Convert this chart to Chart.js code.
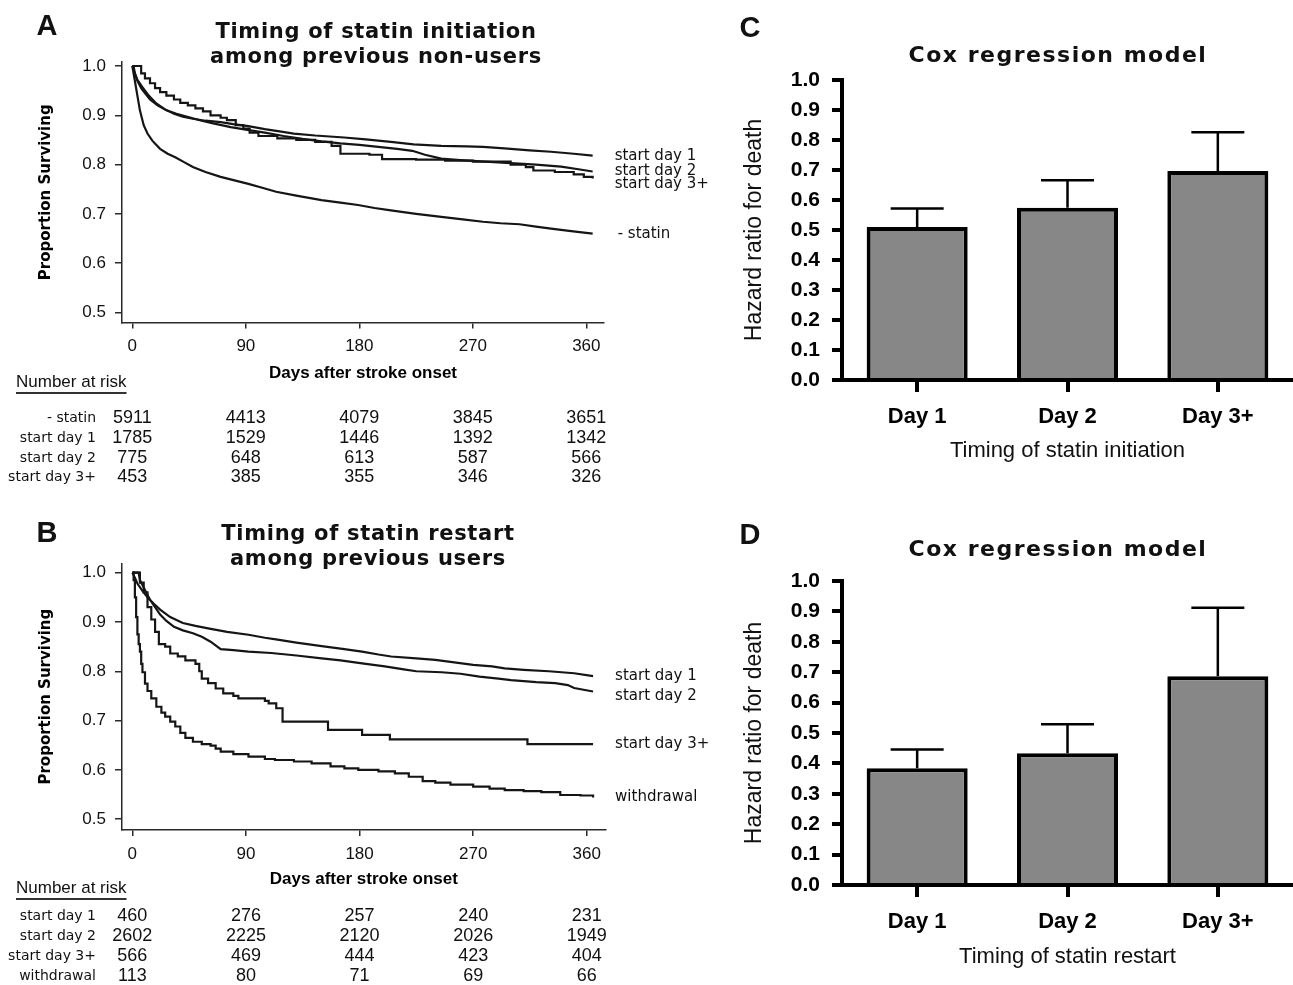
<!DOCTYPE html>
<html>
<head>
<meta charset="utf-8">
<script src="https://cdn.jsdelivr.net/npm/chart.js@4.4.0/dist/chart.umd.min.js"></script>
<style>
  html, body { margin: 0; padding: 0; background: #fff; }
  body { width: 1293px; height: 985px; position: relative; overflow: hidden; }
  canvas { position: absolute; display: block; }
</style>
</head>
<body>
<canvas id="panelA" width="720" height="500" style="left:0;top:0"></canvas>
<canvas id="panelB" width="720" height="485" style="left:0;top:500px"></canvas>
<canvas id="panelC" width="573" height="490" style="left:720px;top:0"></canvas>
<canvas id="panelD" width="573" height="490" style="left:720px;top:495px"></canvas>
<script>
// ---------------- DATA ----------------
const KM_TICKS = [0, 90, 180, 270, 360];
const SURV_TICKS = [0.5, 0.6, 0.7, 0.8, 0.9, 1.0];
const HR_TICKS = [0, 0.1, 0.2, 0.3, 0.4, 0.5, 0.6, 0.7, 0.8, 0.9, 1.0];

// Panel A: timing of statin initiation among previous non-users
const aDay1Days = [0, 2, 4, 8, 13, 19, 26, 33, 40, 48, 58, 70, 80, 92, 105, 118, 128, 145, 168, 185, 205, 223, 245, 265, 278, 295, 315, 332, 350, 365];
const aDay1Surv = [1.0, 0.985, 0.972, 0.957, 0.94, 0.924, 0.912, 0.903, 0.897, 0.893, 0.889, 0.886, 0.882, 0.878, 0.872, 0.867, 0.863, 0.859, 0.855, 0.851, 0.846, 0.841, 0.838, 0.837, 0.836, 0.833, 0.829, 0.826, 0.822, 0.818];
const aDay2Days = [0, 1, 2, 4, 7, 10, 14, 20, 27, 35, 45, 55, 65, 78, 90, 105, 120, 135, 150, 165, 180, 195, 210, 222, 232, 245, 260, 280, 300, 320, 340, 355, 365];
const aDay2Surv = [1.0, 1.0, 0.985, 0.97, 0.955, 0.945, 0.932, 0.92, 0.91, 0.903, 0.896, 0.889, 0.883, 0.876, 0.871, 0.865, 0.858, 0.852, 0.847, 0.843, 0.84, 0.836, 0.832, 0.828, 0.82, 0.812, 0.809, 0.806, 0.803, 0.8, 0.796, 0.79, 0.786];
const aDay3Days = [0, 5, 7, 10, 14, 18, 22, 27, 33, 38, 44, 50, 56, 62, 70, 75, 82, 88, 93, 100, 115, 130, 145, 158, 165, 188, 198, 225, 248, 270, 300, 312, 318, 335, 350, 358, 365];
const aDay3Surv = [1.0, 1.0, 0.985, 0.975, 0.965, 0.955, 0.947, 0.94, 0.932, 0.925, 0.92, 0.914, 0.908, 0.9, 0.895, 0.89, 0.88, 0.873, 0.865, 0.858, 0.853, 0.85, 0.846, 0.838, 0.822, 0.82, 0.811, 0.81, 0.808, 0.806, 0.8, 0.795, 0.788, 0.785, 0.78, 0.775, 0.772];
const aStatinDays = [0, 2, 4, 6, 9, 12, 16, 22, 28, 34, 41, 48, 58, 70, 81, 92, 103, 114, 130, 150, 165, 179, 192, 205, 225, 245, 262, 278, 292, 307, 320, 332, 348, 365];
const aStatinSurv = [1.0, 0.97, 0.94, 0.91, 0.88, 0.863, 0.848, 0.832, 0.822, 0.815, 0.805, 0.795, 0.785, 0.775, 0.768, 0.761, 0.753, 0.745, 0.737, 0.728, 0.723, 0.718, 0.712, 0.707, 0.7, 0.694, 0.689, 0.684, 0.681, 0.679, 0.674, 0.67, 0.665, 0.66];

const aRiskLabels = ['- statin', 'start day 1', 'start day 2', 'start day 3+'];
const aRiskStatin = [5911, 4413, 4079, 3845, 3651];
const aRiskDay1 = [1785, 1529, 1446, 1392, 1342];
const aRiskDay2 = [775, 648, 613, 587, 566];
const aRiskDay3 = [453, 385, 355, 346, 326];

// Panel B: timing of statin restart among previous users
const bDay1Days = [0, 2, 4, 8, 12, 17, 22, 30, 40, 50, 60, 75, 92, 105, 115, 130, 150, 165, 182, 195, 205, 225, 240, 255, 270, 285, 295, 310, 330, 350, 365];
const bDay1Surv = [1.0, 0.99, 0.978, 0.963, 0.95, 0.937, 0.925, 0.91, 0.898, 0.892, 0.887, 0.88, 0.874, 0.868, 0.864, 0.858, 0.851, 0.846, 0.84, 0.834, 0.83, 0.826, 0.823, 0.818, 0.813, 0.81, 0.806, 0.803, 0.8, 0.796, 0.79];
const bDay2Days = [0, 5, 6, 8, 11, 14, 18, 22, 27, 33, 40, 48, 55, 62, 70, 80, 92, 110, 130, 150, 165, 182, 200, 215, 225, 245, 260, 275, 290, 300, 320, 335, 345, 350, 365];
const bDay2Surv = [1.0, 1.0, 0.985, 0.975, 0.96, 0.945, 0.93, 0.915, 0.902, 0.89, 0.883, 0.877, 0.87, 0.86, 0.845, 0.843, 0.84, 0.837, 0.832, 0.826, 0.822, 0.816, 0.81, 0.804, 0.8, 0.798, 0.795, 0.789, 0.785, 0.782, 0.778, 0.776, 0.772, 0.766, 0.759];
const bDay3Days = [0, 4, 6, 9, 12, 15, 18, 21, 26, 30, 36, 42, 50, 53, 55, 60, 66, 72, 80, 84, 105, 108, 114, 119, 155, 182, 204, 313, 365];
const bDay3Surv = [1.0, 1.0, 0.98, 0.96, 0.93, 0.905, 0.88, 0.855, 0.85, 0.836, 0.83, 0.822, 0.815, 0.8, 0.785, 0.776, 0.765, 0.755, 0.75, 0.745, 0.74, 0.735, 0.725, 0.698, 0.681, 0.671, 0.662, 0.652, 0.652];
const bWithdrawalDays = [0, 1, 2, 3, 4, 5, 6, 7, 8, 10, 12, 15, 19, 23, 26, 30, 34, 38, 42, 48, 55, 62, 66, 70, 80, 92, 105, 113, 128, 142, 157, 168, 179, 195, 208, 219, 230, 240, 252, 270, 283, 295, 310, 324, 339, 355, 365];
const bWithdrawalSurv = [1.0, 0.985, 0.95, 0.91, 0.875, 0.855, 0.84, 0.815, 0.798, 0.775, 0.76, 0.745, 0.728, 0.716, 0.708, 0.698, 0.688, 0.675, 0.665, 0.657, 0.652, 0.649, 0.643, 0.637, 0.632, 0.627, 0.622, 0.62, 0.617, 0.613, 0.607, 0.603, 0.6, 0.597, 0.593, 0.586, 0.577, 0.574, 0.57, 0.566, 0.562, 0.559, 0.557, 0.555, 0.549, 0.548, 0.544];

const bRiskLabels = ['start day 1', 'start day 2', 'start day 3+', 'withdrawal'];
const bRiskDay1 = [460, 276, 257, 240, 231];
const bRiskDay2 = [2602, 2225, 2120, 2026, 1949];
const bRiskDay3 = [566, 469, 444, 423, 404];
const bRiskWithdrawal = [113, 80, 71, 69, 66];

// Panels C and D: Cox regression hazard ratios (bar) and upper CI (error bar)
const coxCategories = ['Day 1', 'Day 2', 'Day 3+'];
const coxInitiationHR = [0.51, 0.574, 0.697];
const coxInitiationUpper = [0.572, 0.666, 0.826];
const coxRestartHR = [0.384, 0.433, 0.687];
const coxRestartUpper = [0.446, 0.529, 0.912];

// ---------------- RENDERING ----------------
Chart.defaults.font.family = '"Liberation Sans", Arial, sans-serif';
Chart.defaults.color = '#111';

const kmLine = (days, surv) => days.map((d, i) => ({ x: d, y: surv[i] }));

function drawText(ctx, text, x, y, font, align, spacing) {
  ctx.save();
  ctx.font = font;
  ctx.fillStyle = '#111';
  ctx.textAlign = align || 'left';
  ctx.textBaseline = 'middle';
  if ('letterSpacing' in ctx) ctx.letterSpacing = spacing || '0px';
  ctx.fillText(text, x, y);
  ctx.restore();
}

function kmDecoPlugin(deco) {
  return {
    id: 'kmDeco',
    afterDraw(chart) {
      const ctx = chart.ctx;
      const xs = chart.scales.x, ys = chart.scales.y;
      drawText(ctx, deco.letter, deco.letterX, deco.letterY, 'bold 29px "Liberation Sans", Arial', 'center');
      deco.title.forEach((t, i) => drawText(ctx, t, deco.titleX, deco.titleY[i], 'bold 21px "DejaVu Sans"', 'center', '0.7px'));
      deco.curveLabels.forEach(cl => {
        const ds = chart.data.datasets[cl.series].data;
        const last = ds[ds.length - 1];
        const y = ys.getPixelForValue(last.y) + cl.dy;
        drawText(ctx, cl.text, xs.getPixelForValue(last.x) + cl.dx, y, '15px "DejaVu Sans"', 'left');
      });
      drawText(ctx, 'Number at risk', 16, deco.riskHeaderY, '17px "Liberation Sans", Arial', 'left');
      ctx.save();
      ctx.font = '17px "Liberation Sans", Arial';
      const w = ctx.measureText('Number at risk').width;
      ctx.strokeStyle = '#333';
      ctx.lineWidth = 2;
      ctx.beginPath();
      ctx.moveTo(16, deco.riskHeaderY + 11);
      ctx.lineTo(16 + w, deco.riskHeaderY + 11);
      ctx.stroke();
      ctx.restore();
      deco.riskRows.forEach((row, r) => {
        const y = deco.riskRowsY[r];
        drawText(ctx, row.label, deco.riskLabelX, y, '14px "DejaVu Sans"', 'right');
        row.values.forEach((v, c) => {
          drawText(ctx, String(v), xs.getPixelForValue(KM_TICKS[c]), y, '18px "Liberation Sans", Arial', 'center');
        });
      });
    }
  };
}

function kmChart(id, series, yRange, xRange, pad, xTitlePad, deco) {
  const axisColor = '#2a2a2a';
  return new Chart(document.getElementById(id), {
    type: 'line',
    data: {
      datasets: series.map(s => ({
        label: s.name,
        data: kmLine(s.days, s.surv),
        stepped: s.stepped,
        borderColor: '#151515',
        borderWidth: 2.2,
        pointRadius: 0,
        fill: false
      }))
    },
    options: {
      responsive: false,
      animation: false,
      events: [],
      layout: { padding: pad },
      plugins: { legend: { display: false }, tooltip: { enabled: false } },
      scales: {
        x: {
          type: 'linear', min: xRange[0], max: xRange[1],
          afterBuildTicks: s => { s.ticks = KM_TICKS.map(v => ({ value: v })); },
          afterFit: s => { s.height = 70; },
          grid: { drawOnChartArea: false, drawTicks: true, tickLength: 6, color: axisColor, lineWidth: 1.5 },
          border: { display: true, color: axisColor, width: 1.5 },
          ticks: { font: { size: 17 }, color: '#111', padding: 8, maxRotation: 0, callback: v => String(v) },
          title: { display: true, text: 'Days after stroke onset', font: { size: 17, weight: 'bold' }, color: '#000', padding: { top: 0, bottom: xTitlePad } }
        },
        y: {
          type: 'linear', min: yRange[0], max: yRange[1],
          afterBuildTicks: s => { s.ticks = SURV_TICKS.map(v => ({ value: v })); },
          afterFit: s => { s.width = 122; },
          grid: { drawOnChartArea: false, drawTicks: true, tickLength: 7, color: axisColor, lineWidth: 1.5 },
          border: { display: true, color: axisColor, width: 1.5 },
          ticks: { font: { size: 17 }, color: '#111', padding: 9, callback: v => Number(v).toFixed(1) },
          title: { display: true, text: 'Proportion Surviving', font: { family: '"DejaVu Sans"', size: 15, weight: 'bold' }, color: '#000', padding: { top: 37, bottom: 0 } }
        }
      }
    },
    plugins: [kmDecoPlugin(deco)]
  });
}

function errorBarPlugin(upper) {
  return {
    id: 'errorBars',
    afterDatasetsDraw(chart) {
      const ctx = chart.ctx;
      const ys = chart.scales.y;
      const meta = chart.getDatasetMeta(0);
      ctx.save();
      ctx.strokeStyle = '#000';
      ctx.lineWidth = 2.5;
      meta.data.forEach((bar, i) => {
        const yUp = ys.getPixelForValue(upper[i]);
        ctx.beginPath();
        ctx.moveTo(bar.x, bar.y);
        ctx.lineTo(bar.x, yUp);
        ctx.moveTo(bar.x - 26.5, yUp);
        ctx.lineTo(bar.x + 26.5, yUp);
        ctx.stroke();
      });
      ctx.restore();
    }
  };
}

function coxDecoPlugin(deco) {
  return {
    id: 'coxDeco',
    afterDraw(chart) {
      const ctx = chart.ctx;
      drawText(ctx, deco.letter, deco.letterX, deco.letterY, 'bold 29px "Liberation Sans", Arial', 'center');
      drawText(ctx, 'Cox regression model', deco.titleX, deco.titleY, 'bold 22px "DejaVu Sans"', 'center', '1.5px');
    }
  };
}

function coxChart(id, hr, upper, xTitle, pad, xTitlePad, deco) {
  return new Chart(document.getElementById(id), {
    type: 'bar',
    data: {
      labels: coxCategories,
      datasets: [{
        data: hr,
        backgroundColor: '#878787',
        borderColor: '#000',
        borderWidth: 4,
        barPercentage: 0.672,
        categoryPercentage: 1.0
      }]
    },
    options: {
      responsive: false,
      animation: false,
      events: [],
      layout: { padding: pad },
      plugins: { legend: { display: false }, tooltip: { enabled: false } },
      scales: {
        x: {
          offset: true, z: 1,
          afterFit: s => { s.height = 85; },
          grid: { offset: false, drawOnChartArea: false, tickLength: 12, lineWidth: 4, color: '#000' },
          border: { display: true, width: 4, color: '#000' },
          ticks: { font: { size: 22, weight: 'bold' }, color: '#000', padding: 12 },
          title: { display: true, text: xTitle, font: { size: 22 }, color: '#111', padding: { top: 0, bottom: xTitlePad } }
        },
        y: {
          min: 0, max: 1, z: 1,
          afterBuildTicks: s => { s.ticks = HR_TICKS.map(v => ({ value: v })); },
          afterFit: s => { s.width = 122; },
          grid: { drawOnChartArea: false, tickLength: 10, lineWidth: 4, color: '#000' },
          border: { display: true, width: 4, color: '#000' },
          ticks: { font: { size: 21, weight: 'bold' }, color: '#000', padding: 12, callback: v => Number(v).toFixed(1) },
          title: { display: true, text: 'Hazard ratio for death', font: { size: 23 }, color: '#111', padding: { top: 21, bottom: 0 } }
        }
      }
    },
    plugins: [errorBarPlugin(upper), coxDecoPlugin(deco)]
  });
}

// Panel A
kmChart('panelA',
  [
    { name: 'start day 1', days: aDay1Days, surv: aDay1Surv, stepped: false },
    { name: 'start day 2', days: aDay2Days, surv: aDay2Surv, stepped: false },
    { name: 'start day 3+', days: aDay3Days, surv: aDay3Surv, stepped: true },
    { name: '- statin', days: aStatinDays, surv: aStatinSurv, stepped: false }
  ],
  [0.4797, 1.0081], [-8.2, 374],
  { left: 0, top: 62, right: 116, bottom: 107.5 }, 9.3,
  {
    letter: 'A', letterX: 47, letterY: 27,
    title: ['Timing of statin initiation', 'among previous non-users'], titleX: 376, titleY: [33, 58],
    curveLabels: [
      { text: 'start day 1', series: 0, dx: 22, dy: 0 },
      { text: 'start day 2', series: 1, dx: 22, dy: 0 },
      { text: 'start day 3+', series: 2, dx: 22, dy: 6 },
      { text: '- statin', series: 3, dx: 25, dy: 0 }
    ],
    riskHeaderY: 382, riskRowsY: [418, 438, 458, 477], riskLabelX: 96,
    riskRows: [
      { label: aRiskLabels[0], values: aRiskStatin },
      { label: aRiskLabels[1], values: aRiskDay1 },
      { label: aRiskLabels[2], values: aRiskDay2 },
      { label: aRiskLabels[3], values: aRiskDay3 }
    ]
  });

// Panel B
kmChart('panelB',
  [
    { name: 'start day 1', days: bDay1Days, surv: bDay1Surv, stepped: false },
    { name: 'start day 2', days: bDay2Days, surv: bDay2Surv, stepped: false },
    { name: 'start day 3+', days: bDay3Days, surv: bDay3Surv, stepped: true },
    { name: 'withdrawal', days: bWithdrawalDays, surv: bWithdrawalSurv, stepped: true }
  ],
  [0.478, 1.019], [-8.2, 375],
  { left: 0, top: 63.3, right: 114.3, bottom: 85 }, 10.8,
  {
    letter: 'B', letterX: 47, letterY: 34,
    title: ['Timing of statin restart', 'among previous users'], titleX: 368, titleY: [35, 60],
    curveLabels: [
      { text: 'start day 1', series: 0, dx: 22, dy: 0 },
      { text: 'start day 2', series: 1, dx: 22, dy: 4.5 },
      { text: 'start day 3+', series: 2, dx: 22, dy: 0 },
      { text: 'withdrawal', series: 3, dx: 22, dy: 0 }
    ],
    riskHeaderY: 388, riskRowsY: [416, 436, 456, 476], riskLabelX: 96,
    riskRows: [
      { label: bRiskLabels[0], values: bRiskDay1 },
      { label: bRiskLabels[1], values: bRiskDay2 },
      { label: bRiskLabels[2], values: bRiskDay3 },
      { label: bRiskLabels[3], values: bRiskWithdrawal }
    ]
  });

// Panel C
coxChart('panelC', coxInitiationHR, coxInitiationUpper, 'Timing of statin initiation',
  { left: 0, top: 80, right: 0, bottom: 25 }, 0.8,
  { letter: 'C', letterX: 30, letterY: 29, titleX: 338, titleY: 56 });

// Panel D
coxChart('panelD', coxRestartHR, coxRestartUpper, 'Timing of statin restart',
  { left: 0, top: 86, right: 0, bottom: 15 }, 0,
  { letter: 'D', letterX: 30, letterY: 41, titleX: 338, titleY: 55 });
</script>
</body>
</html>
